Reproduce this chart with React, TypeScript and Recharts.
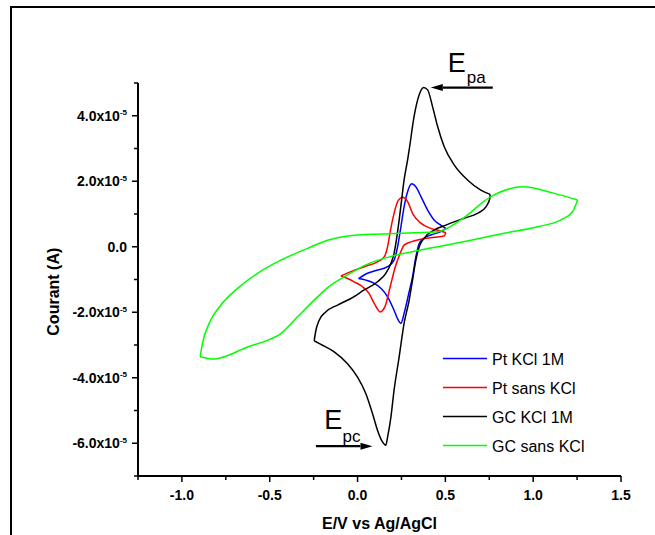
import React from 'react';
import { LineChart, Line, XAxis, YAxis, Legend, ReferenceLine, Label } from 'recharts';

const FONT = "'Liberation Sans', Arial, Helvetica, sans-serif";

// Axis ticks (x in V, y in units of 1e-5 A)
const xMajorTicks = [-1, -0.5, 0, 0.5, 1, 1.5];
const xAllTicks = [-1.25, -1, -0.75, -0.5, -0.25, 0, 0.25, 0.5, 0.75, 1, 1.25, 1.5];
const yMajorTicks = [-6, -4, -2, 0, 2, 4];
const yAllTicks = [-7, -6, -5, -4, -3, -2, -1, 0, 1, 2, 3, 4, 5];

const seriesNames = ['Pt KCl 1M', 'Pt sans KCl', 'GC KCl 1M', 'GC sans KCl'];
const seriesColors = ['#0000ff', '#ff0000', '#000000', '#00ff00'];

// Pt KCl 1M
const ptKclForward = [
  { x: 0.006, y: -0.97 }, { x: 0.057, y: -0.81 }, { x: 0.114, y: -0.71 }, { x: 0.171, y: -0.61 },
  { x: 0.208, y: -0.41 }, { x: 0.228, y: 0.0 }, { x: 0.247, y: 0.61 }, { x: 0.265, y: 1.22 },
  { x: 0.285, y: 1.68 }, { x: 0.309, y: 1.92 }, { x: 0.332, y: 1.83 }, { x: 0.361, y: 1.53 },
  { x: 0.399, y: 1.12 }, { x: 0.436, y: 0.82 }, { x: 0.474, y: 0.66 }, { x: 0.503, y: 0.56 },
];
const ptKclReverse = [
  { x: 0.503, y: 0.56 }, { x: 0.474, y: 0.46 }, { x: 0.417, y: 0.36 }, { x: 0.379, y: 0.26 },
  { x: 0.351, y: 0.1 }, { x: 0.332, y: -0.31 }, { x: 0.313, y: -0.92 }, { x: 0.292, y: -1.42 },
  { x: 0.265, y: -2.04 }, { x: 0.247, y: -2.34 }, { x: 0.228, y: -2.2 }, { x: 0.208, y: -1.94 },
  { x: 0.171, y: -1.53 }, { x: 0.133, y: -1.27 }, { x: 0.095, y: -1.12 }, { x: 0.047, y: -1.02 },
  { x: 0.006, y: -0.97 },
];

// Pt sans KCl
const ptSansForward = [
  { x: -0.095, y: -0.89 }, { x: -0.038, y: -0.76 }, { x: 0.038, y: -0.61 }, { x: 0.114, y: -0.46 },
  { x: 0.152, y: -0.31 }, { x: 0.171, y: 0.0 }, { x: 0.186, y: 0.46 }, { x: 0.208, y: 1.02 },
  { x: 0.231, y: 1.41 }, { x: 0.256, y: 1.51 }, { x: 0.285, y: 1.38 }, { x: 0.313, y: 1.02 },
  { x: 0.36, y: 0.72 }, { x: 0.417, y: 0.56 }, { x: 0.474, y: 0.48 }, { x: 0.503, y: 0.43 },
];
const ptSansReverse = [
  { x: 0.503, y: 0.43 }, { x: 0.493, y: 0.33 }, { x: 0.436, y: 0.29 }, { x: 0.36, y: 0.23 },
  { x: 0.304, y: 0.15 }, { x: 0.265, y: 0.05 }, { x: 0.243, y: -0.2 }, { x: 0.215, y: -0.61 },
  { x: 0.186, y: -1.22 }, { x: 0.156, y: -1.83 }, { x: 0.129, y: -1.99 }, { x: 0.095, y: -1.73 },
  { x: 0.066, y: -1.43 }, { x: 0.028, y: -1.22 }, { x: -0.019, y: -1.07 }, { x: -0.057, y: -0.97 },
  { x: -0.095, y: -0.89 },
];

// GC KCl 1M
const gcKclForward = [
  { x: -0.247, y: -2.87 }, { x: -0.237, y: -2.55 }, { x: -0.219, y: -2.25 }, { x: -0.181, y: -1.99 },
  { x: -0.114, y: -1.78 }, { x: -0.038, y: -1.58 }, { x: 0.038, y: -1.32 }, { x: 0.114, y: -1.07 },
  { x: 0.161, y: -0.81 }, { x: 0.19, y: -0.51 }, { x: 0.208, y: -0.2 }, { x: 0.224, y: 0.31 },
  { x: 0.237, y: 0.82 }, { x: 0.251, y: 1.43 }, { x: 0.265, y: 2.04 }, { x: 0.285, y: 2.65 },
  { x: 0.294, y: 2.96 }, { x: 0.322, y: 3.98 }, { x: 0.351, y: 4.64 }, { x: 0.376, y: 4.86 },
  { x: 0.399, y: 4.79 }, { x: 0.427, y: 4.28 }, { x: 0.456, y: 3.67 }, { x: 0.493, y: 3.06 },
  { x: 0.55, y: 2.5 }, { x: 0.626, y: 2.04 }, { x: 0.702, y: 1.73 }, { x: 0.755, y: 1.6 },
];
const gcKclReverse = [
  { x: 0.755, y: 1.6 }, { x: 0.752, y: 1.45 }, { x: 0.731, y: 1.22 }, { x: 0.683, y: 1.02 },
  { x: 0.607, y: 0.87 }, { x: 0.55, y: 0.76 }, { x: 0.503, y: 0.66 }, { x: 0.436, y: 0.51 },
  { x: 0.379, y: 0.26 }, { x: 0.351, y: 0.0 }, { x: 0.332, y: -0.41 }, { x: 0.313, y: -1.02 },
  { x: 0.294, y: -1.63 }, { x: 0.265, y: -2.34 }, { x: 0.237, y: -3.36 }, { x: 0.208, y: -4.38 },
  { x: 0.19, y: -5.2 }, { x: 0.171, y: -5.81 }, { x: 0.161, y: -6.06 }, { x: 0.142, y: -5.96 },
  { x: 0.114, y: -5.61 }, { x: 0.085, y: -5.09 }, { x: 0.047, y: -4.48 }, { x: 0.0, y: -3.98 },
  { x: -0.057, y: -3.57 }, { x: -0.133, y: -3.21 }, { x: -0.209, y: -2.98 }, { x: -0.247, y: -2.87 },
];

// GC sans KCl
const gcSansForward = [
  { x: -0.896, y: -3.36 }, { x: -0.883, y: -2.95 }, { x: -0.845, y: -2.34 }, { x: -0.778, y: -1.78 },
  { x: -0.683, y: -1.27 }, { x: -0.569, y: -0.81 }, { x: -0.437, y: -0.41 }, { x: -0.285, y: -0.05 },
  { x: -0.171, y: 0.2 }, { x: -0.057, y: 0.33 }, { x: 0.133, y: 0.39 }, { x: 0.322, y: 0.43 },
  { x: 0.456, y: 0.46 }, { x: 0.588, y: 0.82 }, { x: 0.759, y: 1.53 }, { x: 0.94, y: 1.83 },
  { x: 1.12, y: 1.63 }, { x: 1.253, y: 1.43 },
];
const gcSansReverse = [
  { x: 1.253, y: 1.43 }, { x: 1.224, y: 1.07 }, { x: 1.158, y: 0.82 }, { x: 1.025, y: 0.61 },
  { x: 0.835, y: 0.41 }, { x: 0.645, y: 0.2 }, { x: 0.456, y: 0.0 }, { x: 0.36, y: -0.1 },
  { x: 0.208, y: -0.27 }, { x: 0.057, y: -0.53 }, { x: -0.076, y: -0.92 }, { x: -0.152, y: -1.17 },
  { x: -0.247, y: -1.63 }, { x: -0.342, y: -2.14 }, { x: -0.437, y: -2.65 }, { x: -0.513, y: -2.86 },
  { x: -0.626, y: -3.06 }, { x: -0.76, y: -3.36 }, { x: -0.817, y: -3.43 }, { x: -0.896, y: -3.36 },
];

const seriesForward = [ptKclForward, ptSansForward, gcKclForward, gcSansForward];
const seriesReverse = [ptKclReverse, ptSansReverse, gcKclReverse, gcSansReverse];

// Peak annotations (arrow tail -> head, in data coordinates)
const annotationMain = ['E', 'E'];
const annotationSub = ['pa', 'pc'];
const annotationTail = [{ x: 0.77, y: 4.86 }, { x: -0.237, y: -6.09 }];
const annotationHead = [{ x: 0.417, y: 4.86 }, { x: 0.085, y: -6.09 }];

// text placement relative to arrow tail (style)
const annotationTextOffsets = [
  { ex: -45, ey: -15.7, sx: -26, sy: -4.5 },
  { ex: 8.3, ey: -17.4, sx: 26.7, sy: -4 },
];

function XTick(props: any) {
  const { x, y, payload } = props;
  const v = payload.value as number;
  const major = xMajorTicks.includes(v);
  return (
    <g>
      <line x1={x} x2={x} y1={y} y2={y + (major ? 6 : 4)} stroke="#000" strokeWidth={1.5} />
      {major && (
        <text x={x} y={y + 23.6} textAnchor="middle" fontFamily={FONT} fontWeight="bold" fontSize={14} fill="#000">
          {v.toFixed(1)}
        </text>
      )}
    </g>
  );
}

function YTick(props: any) {
  const { x, y, payload } = props;
  const v = payload.value as number;
  const major = yMajorTicks.includes(v);
  return (
    <g>
      <line x1={x} x2={x - (major ? 6 : 4)} y1={y} y2={y} stroke="#000" strokeWidth={1.5} />
      {major && (
        <text x={x - 11} y={y + 5} textAnchor="end" fontFamily={FONT} fontWeight="bold" fontSize={14} fill="#000">
          {v === 0 ? (
            '0.0'
          ) : (
            <>
              {v.toFixed(1) + 'x10'}
              <tspan fontSize={8} dy={-5.5}>-5</tspan>
            </>
          )}
        </text>
      )}
    </g>
  );
}

function XTitle(props: any) {
  const vb = props.viewBox || { x: 138, y: 476, width: 483, height: 30 };
  return (
    <text x={vb.x + vb.width / 2} y={vb.y + vb.height + 22.6} textAnchor="middle" fontFamily={FONT} fontWeight="bold" fontSize={16} fill="#000">
      E/V vs Ag/AgCl
    </text>
  );
}

function YTitle() {
  const cx = 59;
  const cy = 291.7;
  return (
    <text x={cx} y={cy} transform={`rotate(-90, ${cx}, ${cy})`} textAnchor="middle" fontFamily={FONT} fontWeight="bold" fontSize={16} fill="#000">
      Courant (A)
    </text>
  );
}

function makeArrowShape(i: number) {
  return (p: any) => {
    const { x1, y1, x2, y2 } = p;
    const dir = Math.sign(x2 - x1);
    const headLen = 12;
    const headHalf = 3.5;
    const baseX = x2 - dir * headLen;
    const o = annotationTextOffsets[i];
    return (
      <g>
        <line x1={x1} y1={y1} x2={baseX} y2={y2} stroke="#000" strokeWidth={2.2} />
        <polygon points={`${x2},${y2} ${baseX},${y2 - headHalf} ${baseX},${y2 + headHalf}`} fill="#000" />
        <text x={x1 + o.ex} y={y1 + o.ey} fontFamily={FONT} fontSize={27} fill="#000">
          {annotationMain[i]}
        </text>
        <text x={x1 + o.sx} y={y1 + o.sy} fontFamily={FONT} fontSize={17} fill="#000">
          {annotationSub[i]}
        </text>
      </g>
    );
  };
}

function LegendBox() {
  return (
    <svg width={215} height={115} style={{ display: 'block' }}>
      {seriesNames.map((n, i) => {
        const ly = 13.5 + i * 29;
        return (
          <g key={n}>
            <line x1={3} x2={47} y1={ly} y2={ly} stroke={seriesColors[i]} strokeWidth={1.5} />
            <text x={52} y={ly + 6} fontFamily={FONT} fontSize={16} fill="#000">
              {n}
            </text>
          </g>
        );
      })}
    </svg>
  );
}

export default function App() {
  const lines: React.ReactNode[] = [];
  seriesNames.forEach((name, i) => {
    lines.push(
      <Line key={name + '-f'} data={seriesForward[i]} dataKey="y" type="monotone" stroke={seriesColors[i]} strokeWidth={1.5} dot={false} activeDot={false} isAnimationActive={false} legendType="none" name={name} />
    );
    lines.push(
      <Line key={name + '-r'} data={seriesReverse[i]} dataKey="y" type="monotone" stroke={seriesColors[i]} strokeWidth={1.5} dot={false} activeDot={false} isAnimationActive={false} legendType="none" name={name + ' '} />
    );
  });

  return (
    <div style={{ position: 'absolute', left: 0, top: 0, width: 655, height: 535, background: '#fff' }}>
      <div style={{ position: 'absolute', left: 10, top: 6, width: 645, height: 529, borderTop: '2px solid #000', borderLeft: '2px solid #000', boxSizing: 'border-box' }} />
      <div style={{ position: 'absolute', left: 0, top: 0 }}>
        <LineChart width={655} height={535} margin={{ top: 83, right: 34, bottom: 29, left: 58 }}>
          <XAxis
            dataKey="x"
            type="number"
            domain={[-1.25, 1.5]}
            allowDataOverflow
            ticks={xAllTicks}
            interval={0}
            tickSize={0}
            tickMargin={0}
            tickLine={false}
            tick={XTick}
            height={30}
            axisLine={{ stroke: '#000', strokeWidth: 2 }}
          >
            <Label content={XTitle} />
          </XAxis>
          <YAxis
            type="number"
            domain={[-7, 5]}
            allowDataOverflow
            ticks={yAllTicks}
            interval={0}
            tickSize={0}
            tickMargin={0}
            tickLine={false}
            tick={YTick}
            width={80}
            axisLine={{ stroke: '#000', strokeWidth: 2 }}
          >
            <Label content={YTitle} />
          </YAxis>
          {lines}
          {annotationTail.map((t, i) => (
            <ReferenceLine key={'ann' + i} segment={[t, annotationHead[i]]} ifOverflow="visible" shape={makeArrowShape(i)} />
          ))}
          <Legend
            layout="vertical"
            align="center"
            verticalAlign="middle"
            content={() => <LegendBox />}
            wrapperStyle={{ left: 440, top: 345, width: 215, height: 115 }}
          />
        </LineChart>
      </div>
    </div>
  );
}
